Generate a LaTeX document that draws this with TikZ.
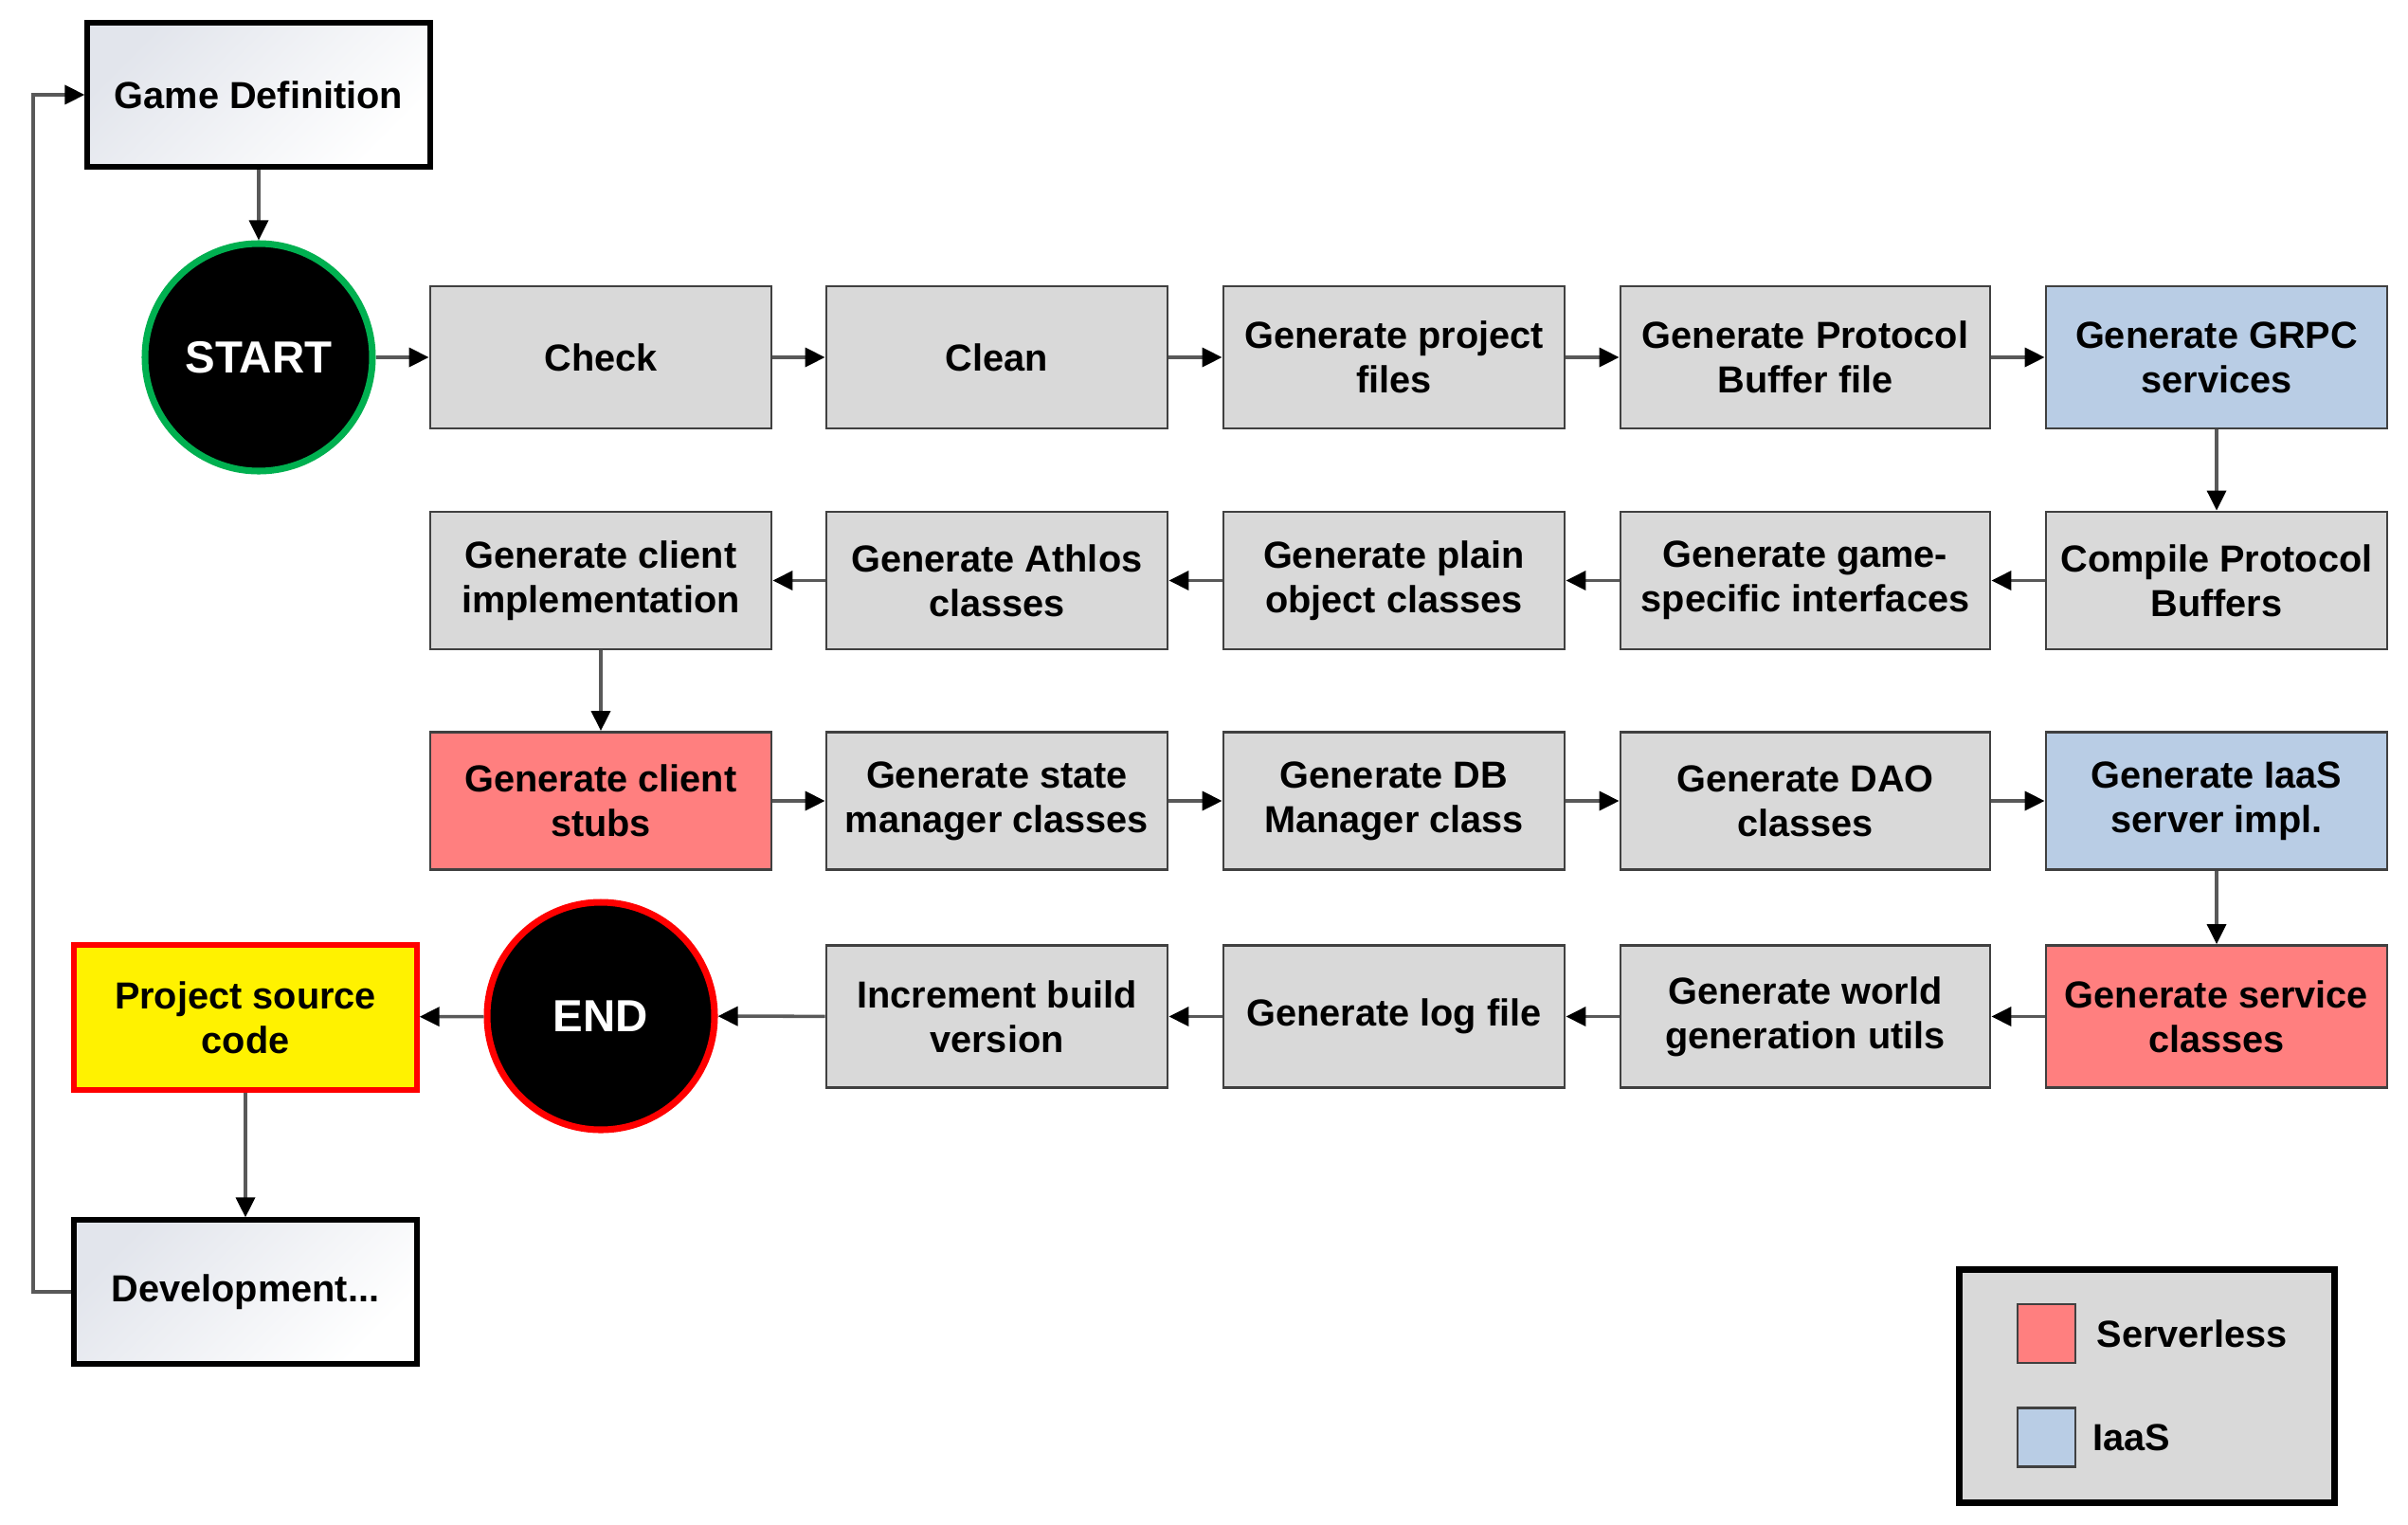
\documentclass[tikz,border=0pt]{standalone}
\usepackage{fontspec}
\setmainfont{Liberation Sans}
\usetikzlibrary{arrows.meta}

\definecolor{stepgray}{HTML}{D9D9D9}
\definecolor{iaasblue}{HTML}{B9CDE5}
\definecolor{srvred}{HTML}{FF7F7F}
\definecolor{edgegray}{HTML}{404040}
\definecolor{gdgray}{HTML}{E2E5EC}
\definecolor{startgreen}{HTML}{00B050}

\begin{document}
\begin{tikzpicture}[
    font=\fontsize{11.3}{13.4}\selectfont\bfseries,
    stepbox/.style={draw=edgegray, line width=0.8pt, fill=stepgray, minimum width=3.6cm,
      minimum height=1.45cm, align=center, inner sep=1pt},
    widebox/.style={stepbox, minimum width=3.9cm},
    endpoint/.style={circle, fill=black, minimum size=2.4cm, line width=2pt, text=white,
      font=\fontsize{13.5}{16}\selectfont\bfseries},
    devbox/.style={draw=black, line width=1.5pt, minimum width=3.62cm, minimum height=1.52cm,
      align=center, top color=gdgray, bottom color=white, shading angle=45},
    flow/.style={draw=black!65, line width=1pt, -{Triangle[length=0.21cm,width=0.2cm,color=black]}},
  ]

  \useasboundingbox (0,0) rectangle (25.41,-16.08);

  % Start, end and the loop boxes
  \node[devbox] (gamedef) at (2.73,-1.00) {Game Definition};
  \node[endpoint, draw=startgreen] (start) at (2.73,-3.77) {START};
  \node[endpoint, draw=red] (finish) at (6.34,-10.72) {END};
  \node[draw=red, line width=1.5pt, fill=yellow, minimum width=3.62cm, minimum height=1.53cm,
    align=center] (source) at (2.59,-10.735) {Project source\\code};
  \node[devbox] (devel) at (2.59,-13.63) {Development...};
  \coordinate (loop) at (0.35,-1.00);

  % Row 1
  \node[stepbox, minimum height=1.5cm] (check) at (6.34,-3.77) {Check};
  \node[stepbox, minimum height=1.5cm] (clean) at (10.52,-3.77) {Clean};
  \node[stepbox, minimum height=1.5cm] (project) at (14.71,-3.77) {Generate project\\files};
  \node[widebox, minimum height=1.5cm] (protofile) at (19.05,-3.77) {Generate Protocol\\Buffer file};
  \node[stepbox, minimum height=1.5cm, fill=iaasblue] (grpc) at (23.39,-3.77) {Generate GRPC\\services};

  % Row 2
  \node[stepbox] (compile) at (23.39,-6.125) {Compile Protocol\\Buffers};
  \node[widebox] (interfaces) at (19.05,-6.125) {Generate game-\\specific interfaces};
  \node[stepbox] (plain) at (14.71,-6.125) {Generate plain\\object classes};
  \node[stepbox] (athlos) at (10.52,-6.125) {Generate Athlos\\classes};
  \node[stepbox] (clientimpl) at (6.34,-6.125) {Generate client\\implementation};

  % Row 3
  \node[stepbox, fill=srvred] (stubs) at (6.34,-8.45) {Generate client\\stubs};
  \node[stepbox] (state) at (10.52,-8.45) {Generate state\\manager classes};
  \node[stepbox] (dbman) at (14.71,-8.45) {Generate DB\\Manager class};
  \node[widebox] (dao) at (19.05,-8.45) {Generate DAO\\classes};
  \node[stepbox, fill=iaasblue] (iaasimpl) at (23.39,-8.45) {Generate IaaS\\server impl.};

  % Row 4
  \node[stepbox, minimum height=1.5cm, fill=srvred] (service) at (23.39,-10.725) {Generate service\\classes};
  \node[widebox, minimum height=1.5cm] (world) at (19.05,-10.725) {Generate world\\generation utils};
  \node[stepbox, minimum height=1.5cm] (logfile) at (14.71,-10.725) {Generate log file};
  \node[stepbox, minimum height=1.5cm] (increment) at (10.52,-10.725) {Increment build\\version};

  % Connectors
  \draw[flow] (gamedef) -- (start);
  \draw[flow] (start) -- (check);
  \draw[flow] (check) -- (clean);
  \draw[flow] (clean) -- (project);
  \draw[flow] (project) -- (protofile);
  \draw[flow] (protofile) -- (grpc);
  \draw[flow] (grpc) -- (compile);
  \draw[flow] (compile) -- (interfaces);
  \draw[flow] (interfaces) -- (plain);
  \draw[flow] (plain) -- (athlos);
  \draw[flow] (athlos) -- (clientimpl);
  \draw[flow] (clientimpl) -- (stubs);
  \draw[flow] (stubs) -- (state);
  \draw[flow] (state) -- (dbman);
  \draw[flow] (dbman) -- (dao);
  \draw[flow] (dao) -- (iaasimpl);
  \draw[flow] (iaasimpl) -- (service);
  \draw[flow] (service) -- (world);
  \draw[flow] (world) -- (logfile);
  \draw[flow] (logfile) -- (increment);
  \draw[flow] (increment) -- (finish);
  \draw[flow] (finish) -- (source);
  \draw[flow] (source) -- (devel);
  \draw[flow] (devel.west) -- (devel.west -| loop) |- (gamedef.west);

  % Legend
  \node[draw=black, line width=2pt, fill=stepgray, minimum width=3.96cm, minimum height=2.46cm]
    (legend) at (22.65,-14.62) {};
  \node[draw=edgegray, line width=0.8pt, fill=srvred, minimum width=0.61cm, minimum height=0.62cm]
    (keyred) at (21.595,-14.07) {};
  \node[draw=edgegray, line width=0.8pt, fill=iaasblue, minimum width=0.61cm, minimum height=0.62cm]
    (keyblue) at (21.595,-15.165) {};
  \node[anchor=west, inner sep=0pt] (keyredtxt) at (22.12,-14.07) {Serverless};
  \node[anchor=west, inner sep=0pt] (keybluetxt) at (22.08,-15.165) {IaaS};

\end{tikzpicture}
\end{document}
